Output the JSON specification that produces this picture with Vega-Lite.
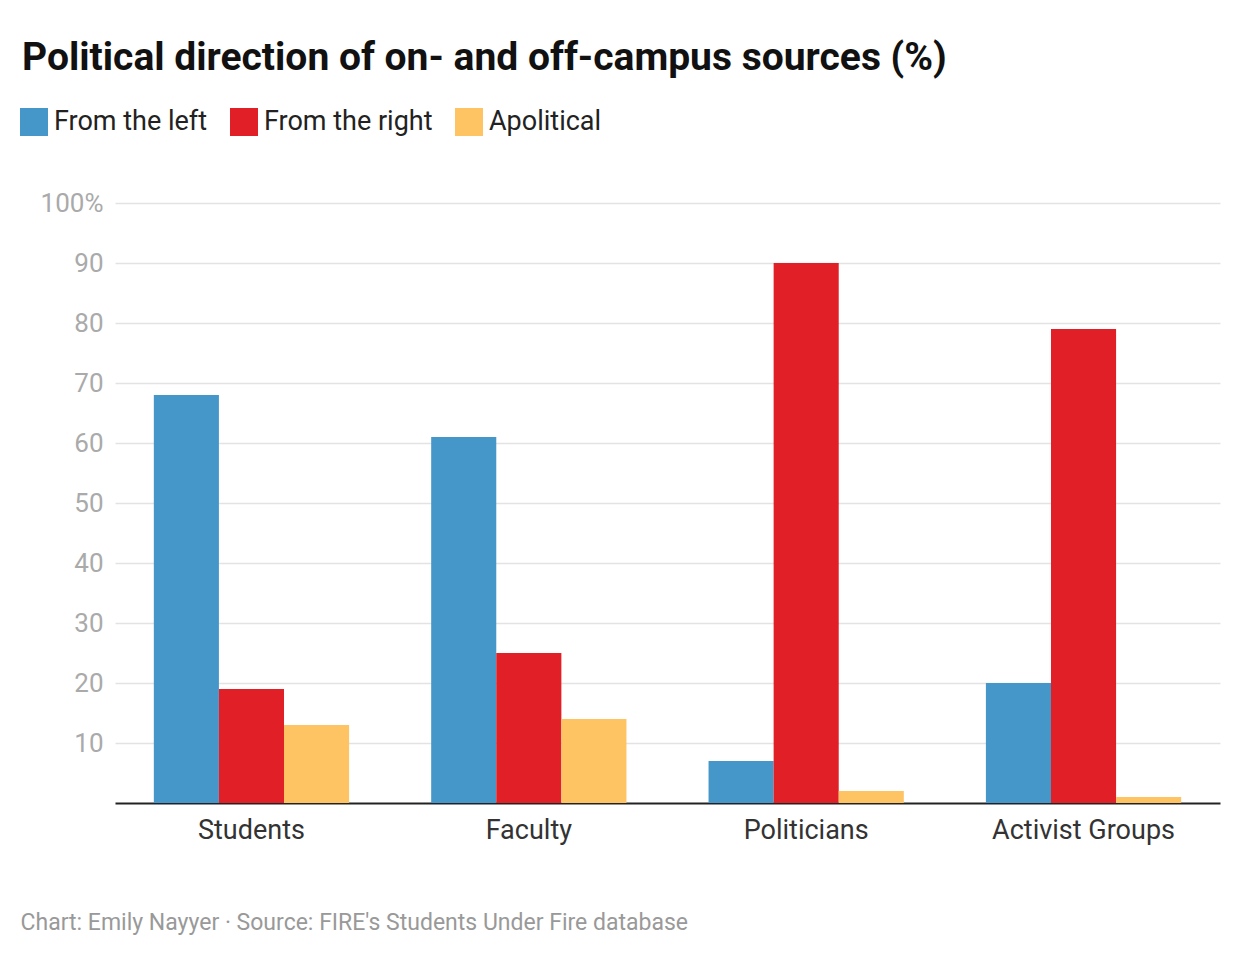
{
"$schema":"https://vega.github.io/schema/vega-lite/v6.json",
"width":1105,"height":600,
"autosize":{"type":"none"},
"padding":{"left":115,"top":203,"right":20,"bottom":155},
"background":"white",
"config":{"view":{"stroke":null}},
"title":{"text":"Political direction of on- and off-campus sources (%)","anchor":"start","frame":"group","dx":-93,"offset":30,"font":"Roboto","fontSize":39,"fontWeight":"bold","color":"#111"},
"data":{"values":[
{"g":"Students","s":"From the left","v":68},{"g":"Students","s":"From the right","v":19},{"g":"Students","s":"Apolitical","v":13},
{"g":"Faculty","s":"From the left","v":61},{"g":"Faculty","s":"From the right","v":25},{"g":"Faculty","s":"Apolitical","v":14},
{"g":"Politicians","s":"From the left","v":7},{"g":"Politicians","s":"From the right","v":90},{"g":"Politicians","s":"Apolitical","v":2},
{"g":"Activist Groups","s":"From the left","v":20},{"g":"Activist Groups","s":"From the right","v":79},{"g":"Activist Groups","s":"Apolitical","v":1}
]},
"mark":{"type":"bar"},
"encoding":{
"x":{"field":"g","type":"nominal","sort":null,"scale":{"paddingInner":0.296,"paddingOuter":0.14},
"axis":{"title":"Chart: Emily Nayyer · Source: FIRE's Students Under Fire database","titleX":-95,"titleY":108,"titleAnchor":"start","titleAlign":"left","titleFont":"Roboto","titleFontSize":23,"titleFontWeight":"normal","titleColor":"#999","labelAngle":0,"labelFont":"Roboto","labelFontSize":27,"labelColor":"#333","labelPadding":14,"labelLimit":0,"ticks":false,"domainColor":"#222","domainWidth":2}},
"xOffset":{"field":"s","type":"nominal","sort":["From the left","From the right","Apolitical"]},
"y":{"field":"v","type":"quantitative","scale":{"domain":[0,100]},
"axis":{"title":null,"values":[10,20,30,40,50,60,70,80,90,100],"labelExpr":"datum.value==100?'100%':datum.label","labelFont":"Roboto","labelFontSize":26,"labelColor":"#aaa","labelPadding":12,"ticks":false,"domain":false,"gridColor":"#e3e3e3","gridWidth":1.5}},
"color":{"field":"s","type":"nominal","sort":["From the left","From the right","Apolitical"],
"scale":{"domain":["From the left","From the right","Apolitical"],"range":["#4596c9","#e01f26","#fec463"]},
"legend":{"title":null,"orient":"none","legendX":-95,"legendY":-95,"direction":"horizontal","symbolType":"square","symbolSize":784,"symbolStrokeWidth":0,"symbolOpacity":1,"labelFont":"Roboto","labelFontSize":27,"labelColor":"#222","labelLimit":0,"columnPadding":22,"labelOffset":6}}
}
}
